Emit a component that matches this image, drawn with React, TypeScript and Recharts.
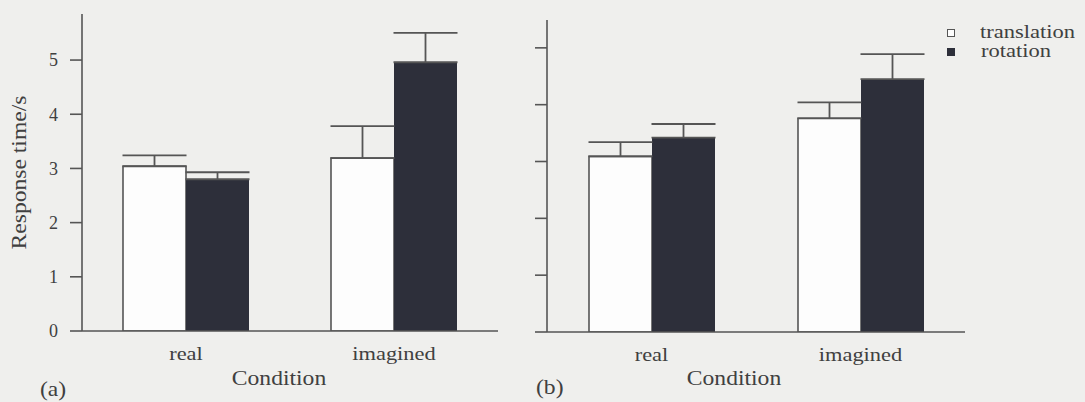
import React from 'react';
import { BarChart, Bar, XAxis, YAxis, ErrorBar, Legend } from 'recharts';

// conditions on the x axis
const conditions = ['real', 'imagined'];

// panel (a)
const translationA = [3.04, 3.19];
const translationErrA = [0.2, 0.59];
const rotationA = [2.8, 4.96];
const rotationErrA = [0.13, 0.54];

// panel (b)
const translationB = [3.09, 3.76];
const translationErrB = [0.25, 0.28];
const rotationB = [3.42, 4.45];
const rotationErrB = [0.24, 0.44];

const yTicks = [0, 1, 2, 3, 4, 5];

const FONT = "'Liberation Serif', 'Times New Roman', Times, serif";
const INK = '#404040';
const AXIS = '#555555';
const DARK = '#2d2f3a';
const BG = '#efefed';
// the scanned figure's lettering is a little wider than Times
const STRETCH = 1.18;

const buildRows = (tr: number[], trErr: number[], ro: number[], roErr: number[]) =>
  conditions.map((c, i) => ({
    condition: c,
    translation: tr[i],
    translationErr: [0, trErr[i]],
    rotation: ro[i],
    rotationErr: [0, roErr[i]],
  }));

const dataA = buildRows(translationA, translationErrA, rotationA, rotationErrA);
const dataB = buildRows(translationB, translationErrB, rotationB, rotationErrB);

const WideText = ({ x, y, rotate = 0, anchor = 'middle', size = 20, children }: any) => (
  <g transform={`translate(${x}, ${y}) rotate(${rotate}) scale(${STRETCH}, 1)`}>
    <text x={0} y={0} textAnchor={anchor} fill={INK} style={{ fontFamily: FONT, fontSize: size }}>
      {children}
    </text>
  </g>
);

const XTick = ({ x, y, payload }: any) => (
  <WideText x={x} y={y + 21} size={19}>
    {payload.value}
  </WideText>
);

const XTitle = ({ viewBox, shift, tag, tagX, tagY }: any) => {
  const cx = viewBox.x + viewBox.width / 2 + shift;
  return (
    <g>
      <WideText x={cx} y={385}>Condition</WideText>
      <WideText x={tagX} y={tagY} anchor="start">{tag}</WideText>
    </g>
  );
};

const YTitle = ({ viewBox }: any) => (
  <WideText x={26} y={viewBox.y + viewBox.height / 2} rotate={-90}>
    Response time/s
  </WideText>
);

const legendLabel = { display: 'inline-block', transform: 'scaleX(1.25)', transformOrigin: 'left center' };

const LegendBox = () => (
  <div style={{ fontFamily: FONT, fontSize: 18, color: INK, lineHeight: '19px', width: 130 }}>
    <div style={{ display: 'flex', alignItems: 'center' }}>
      <span style={{ width: 6, height: 6, border: `1.5px solid ${AXIS}`, background: '#fdfdfd', marginRight: 25 }} />
      <span style={legendLabel}>translation</span>
    </div>
    <div style={{ display: 'flex', alignItems: 'center' }}>
      <span style={{ width: 8, height: 8, background: DARK, marginRight: 26 }} />
      <span style={legendLabel}>rotation</span>
    </div>
  </div>
);

const Panel = ({ data, width, margin, max, showLabels, shift, tag, tagX, tagY, legend }: any) => (
  <BarChart width={width} height={402} data={data} margin={margin} barGap={0} barSize={63}>
    <XAxis
      dataKey="condition"
      height={30}
      axisLine={{ stroke: AXIS, strokeWidth: 1.6 }}
      tickLine={false}
      tick={<XTick />}
      label={<XTitle shift={shift} tag={tag} tagX={tagX} tagY={tagY} />}
    />
    <YAxis
      width={40}
      domain={[0, max]}
      ticks={yTicks}
      allowDataOverflow
      axisLine={{ stroke: AXIS, strokeWidth: 1.6 }}
      tickLine={{ stroke: AXIS, strokeWidth: 1.6 }}
      tickSize={12}
      tickMargin={12}
      tick={{ fill: INK, style: { fontFamily: FONT, fontSize: 18 } }}
      tickFormatter={showLabels ? (v: number) => String(v) : () => ''}
      label={showLabels ? <YTitle /> : undefined}
    />
    {legend && (
      <Legend
        layout="vertical"
        align="center"
        verticalAlign="middle"
        content={<LegendBox />}
        wrapperStyle={{ left: 467, top: 23, width: 'auto', height: 'auto' }}
      />
    )}
    <Bar dataKey="translation" name="translation" fill="#fdfdfd" stroke={AXIS} strokeWidth={1.6} isAnimationActive={false}>
      <ErrorBar dataKey="translationErr" width={32} stroke={AXIS} strokeWidth={1.8} />
    </Bar>
    <Bar dataKey="rotation" name="rotation" fill={DARK} isAnimationActive={false}>
      <ErrorBar dataKey="rotationErr" width={32} stroke={AXIS} strokeWidth={1.8} />
    </Bar>
  </BarChart>
);

export default function App() {
  return (
    <div style={{ position: 'absolute', left: 0, top: 0, width: 1085, height: 402, background: BG, overflow: 'hidden', fontFamily: FONT }}>
      <div style={{ position: 'absolute', left: 0, top: 0 }}>
        <Panel
          data={dataA}
          width={520}
          margin={{ top: 14, right: 22, left: 42, bottom: 41 }}
          max={5.85}
          showLabels
          shift={-11}
          tag="(a)"
          tagX={40}
          tagY={396}
        />
      </div>
      <div style={{ position: 'absolute', left: 480, top: 0 }}>
        <Panel
          data={dataB}
          width={605}
          margin={{ top: 20, right: 120, left: 27, bottom: 40 }}
          max={5.49}
          showLabels={false}
          shift={-22}
          tag="(b)"
          tagX={56}
          tagY={394}
          legend
        />
      </div>
    </div>
  );
}
